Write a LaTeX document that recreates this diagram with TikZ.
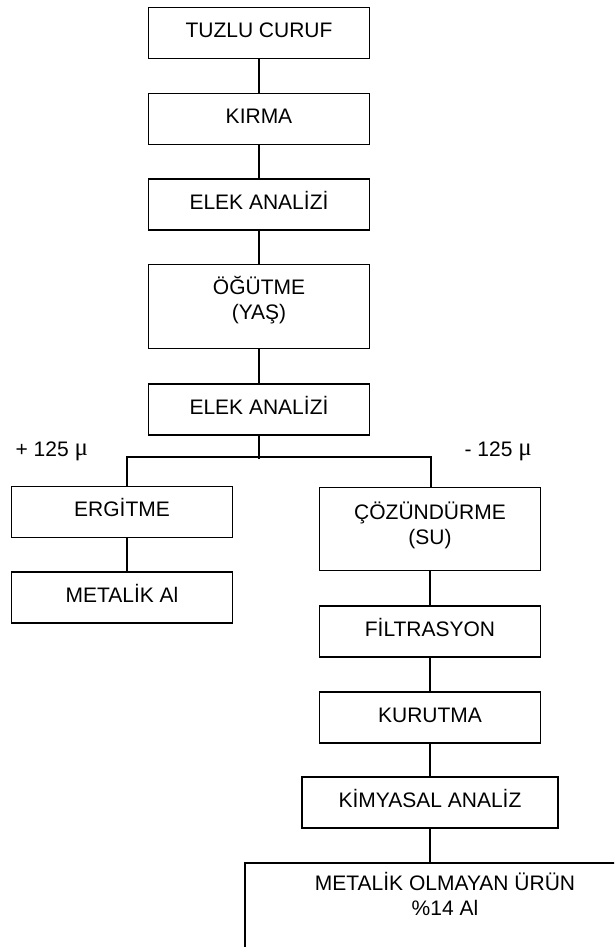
\documentclass[tikz,border=0pt]{standalone}
\usepackage{fontspec}
\setmainfont{Liberation Sans}
\newfontfamily\mufont{Liberation Serif}
\newcommand{\mikron}{\raisebox{1pt}{\mufont\fontsize{25}{25}\selectfont μ}}
\tikzset{box/.style = {draw,line width=1.2pt,minimum width=221pt,minimum height=51pt,inner sep=0pt,align=center,text height=15pt,text depth=6pt,font=\fontsize{21}{25}\selectfont}}
\tikzset{tag/.style = {inner sep=0pt,anchor=base west,font=\fontsize{21}{25}\selectfont}}

\begin{document}
\begin{tikzpicture}[x=1pt,y=-1pt,line width=1.2pt]
    \useasboundingbox (0,0) rectangle (614,947);
    \clip (0,0) rectangle (614,947);
    \node[box] (curuf) at (259,33)    {TUZLU CURUF};
    \node[box] (kirma) at (259,119)   {KIRMA};
    \node[box] (elek1) at (259,204.5) {ELEK ANALİZİ};
    \node[box,minimum height=84pt,text height=40pt,text depth=15pt] (ogut) at (259,306.5) {ÖĞÜTME\\(YAŞ)};
    \node[box] (elek2) at (259,409.5) {ELEK ANALİZİ};
    \node[box] (ergit) at (122,512)   {ERGİTME};
    \node[box] (metal) at (122,597.5) {METALİK Al};
    \node[box,minimum height=83pt,text height=40pt,text depth=10pt] (coz) at (430,529) {ÇÖZÜNDÜRME\\(SU)};
    \node[box] (filt)  at (430,631.5) {FİLTRASYON};
    \node[box] (kuru)  at (430,717.5) {KURUTMA};
    \node[box,minimum width=256pt] (kimya) at (430,802.5) {KİMYASAL ANALİZ};
    \node[box,minimum width=400pt,minimum height=100pt,text height=40pt,text depth=35pt] (urun) at (445,913) {METALİK OLMAYAN ÜRÜN\\\%14 Al};
    \node[tag] (arti)  at (15,456)  {+ 125 \mikron};
    \node[tag] (eksi)  at (464,456) {- 125 \mikron};
    \coordinate (split) at (259,459);
    \coordinate (lft) at (127,457);
    \coordinate (rgt) at (431,457);
    \draw (curuf) -- (kirma);
    \draw (kirma) -- (elek1);
    \draw (elek1) -- (ogut);
    \draw (ogut) -- (elek2);
    \draw (elek2) -- (split);
    \draw (lft |- ergit.north) -- (lft) -- (rgt) -- (rgt |- coz.north);
    \draw (ergit.south -| lft) -- (lft |- metal.north);
    \draw (coz) -- (filt);
    \draw (filt) -- (kuru);
    \draw (kuru) -- (kimya);
    \draw (kimya.south) -- (kimya.south |- urun.north);
\end{tikzpicture}
\end{document}
